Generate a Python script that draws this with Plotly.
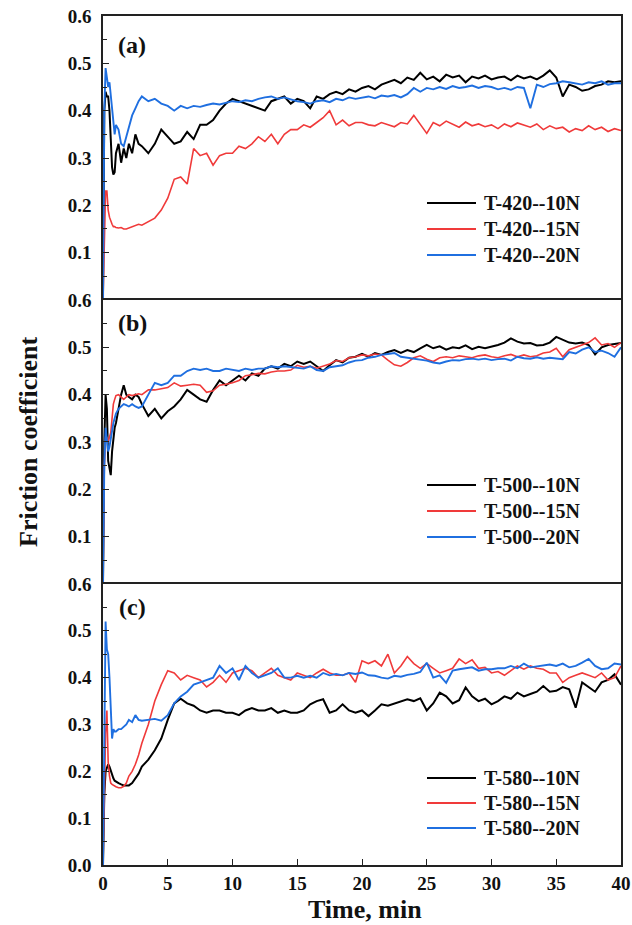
import plotly.graph_objects as go
from plotly.subplots import make_subplots

# ---------------- data ----------------
TIME = [0, 0.1, 0.2, 0.3, 0.4, 0.5, 0.6, 0.7, 0.8, 0.9, 1.0, 1.2, 1.4, 1.6, 1.8, 2.0, 2.25, 2.5, 2.75,
        3.0, 3.5, 4.0, 4.5,
        5.0, 5.5, 6.0, 6.5, 7.0, 7.5, 8.0, 8.5, 9.0, 9.5,
        10.0, 10.5, 11.0, 11.5, 12.0, 12.5, 13.0, 13.5, 14.0, 14.5,
        15.0, 15.5, 16.0, 16.5, 17.0, 17.5, 18.0, 18.5, 19.0, 19.5,
        20.0, 20.5, 21.0, 21.5, 22.0, 22.5, 23.0, 23.5, 24.0, 24.5,
        25.0, 25.5, 26.0, 26.5, 27.0, 27.5, 28.0, 28.5, 29.0, 29.5,
        30.0, 30.5, 31.0, 31.5, 32.0, 32.5, 33.0, 33.5, 34.0, 34.5,
        35.0, 35.5, 36.0, 36.5, 37.0, 37.5, 38.0, 38.5, 39.0, 39.5, 40.0]

# Panel (a): T-420
T420_10N = [0.0, 0.40, 0.44, 0.43, 0.43, 0.40, 0.34, 0.28, 0.265, 0.27, 0.31, 0.33, 0.29, 0.32, 0.30, 0.33, 0.31, 0.35, 0.33,
            0.325, 0.31, 0.33, 0.36,
            0.345, 0.33, 0.335, 0.355, 0.34, 0.37, 0.37, 0.38, 0.40, 0.415,
            0.425, 0.42, 0.415, 0.41, 0.405, 0.40, 0.42, 0.425, 0.43, 0.415,
            0.425, 0.42, 0.405, 0.43, 0.425, 0.435, 0.44, 0.435, 0.445, 0.44,
            0.448, 0.452, 0.445, 0.455, 0.46, 0.465, 0.458, 0.47, 0.465, 0.48,
            0.466, 0.472, 0.462, 0.476, 0.47, 0.474, 0.46, 0.472, 0.468, 0.474,
            0.466, 0.47, 0.472, 0.464, 0.474, 0.468, 0.472, 0.466, 0.474, 0.485,
            0.47, 0.43, 0.455, 0.45, 0.442, 0.445, 0.452, 0.455, 0.462, 0.46, 0.462]
T420_15N = [0.0, 0.15, 0.23, 0.23, 0.19, 0.175, 0.165, 0.16, 0.155, 0.155, 0.153, 0.152, 0.153, 0.15, 0.15, 0.152, 0.155, 0.157, 0.16,
            0.158, 0.165, 0.173, 0.19,
            0.215, 0.255, 0.26, 0.245, 0.32, 0.305, 0.31, 0.285, 0.305, 0.31,
            0.31, 0.325, 0.32, 0.33, 0.345, 0.335, 0.35, 0.33, 0.35, 0.36,
            0.36, 0.37, 0.365, 0.375, 0.385, 0.40, 0.37, 0.38, 0.368, 0.375,
            0.375, 0.37, 0.368, 0.375, 0.37, 0.366, 0.375, 0.372, 0.39, 0.37,
            0.352, 0.375, 0.368, 0.378, 0.372, 0.365, 0.376, 0.368, 0.372, 0.366,
            0.37, 0.362, 0.372, 0.366, 0.374, 0.37, 0.365, 0.372, 0.36, 0.368,
            0.362, 0.365, 0.355, 0.362, 0.358, 0.368, 0.36, 0.365, 0.356, 0.362, 0.358]
T420_20N = [0.0, 0.40, 0.49, 0.47, 0.45, 0.46, 0.43, 0.40, 0.37, 0.35, 0.37, 0.36, 0.33, 0.325, 0.345, 0.365, 0.39, 0.405, 0.42,
            0.43, 0.42, 0.425, 0.415,
            0.41, 0.40, 0.41, 0.405, 0.41, 0.408, 0.412, 0.415, 0.413, 0.417,
            0.42, 0.418, 0.422, 0.42, 0.425, 0.428, 0.43, 0.425, 0.428, 0.424,
            0.42, 0.418, 0.415, 0.42, 0.422, 0.418, 0.425, 0.422, 0.428, 0.425,
            0.428, 0.43, 0.426, 0.432, 0.43, 0.433, 0.428, 0.435, 0.448, 0.44,
            0.448, 0.445, 0.45, 0.446, 0.452, 0.448, 0.45, 0.453, 0.448, 0.452,
            0.45, 0.445, 0.448, 0.444, 0.45, 0.448, 0.405, 0.455, 0.45, 0.456,
            0.458, 0.462, 0.46, 0.458, 0.455, 0.46, 0.458, 0.462, 0.455, 0.458, 0.458]

# Panel (b): T-500
T500_10N = [0.0, 0.30, 0.40, 0.37, 0.26, 0.24, 0.23, 0.28, 0.31, 0.33, 0.34, 0.37, 0.40, 0.42, 0.40, 0.395, 0.39, 0.40, 0.395,
            0.38, 0.355, 0.37, 0.35,
            0.365, 0.375, 0.39, 0.41, 0.40, 0.39, 0.385, 0.41, 0.43, 0.42,
            0.43, 0.44, 0.43, 0.445, 0.44, 0.455, 0.46, 0.455, 0.465, 0.46,
            0.47, 0.465, 0.47, 0.46, 0.45, 0.462, 0.473, 0.468, 0.478, 0.48,
            0.486, 0.48, 0.488, 0.484, 0.49, 0.494, 0.488, 0.494, 0.49, 0.498,
            0.505, 0.498, 0.502, 0.495, 0.50, 0.498, 0.504, 0.496, 0.501, 0.498,
            0.501, 0.505, 0.51, 0.519, 0.512, 0.508, 0.509, 0.504, 0.505, 0.51,
            0.522, 0.516, 0.51, 0.508, 0.51, 0.505, 0.485, 0.50, 0.505, 0.507, 0.509]
T500_15N = [0.0, 0.25, 0.31, 0.31, 0.30, 0.31, 0.32, 0.35, 0.38, 0.39, 0.398, 0.40, 0.395, 0.39, 0.395, 0.40, 0.398, 0.40, 0.402,
            0.40, 0.41, 0.41, 0.412,
            0.415, 0.425, 0.418, 0.42, 0.422, 0.42, 0.405, 0.408, 0.42, 0.422,
            0.425, 0.43, 0.44, 0.442, 0.445, 0.444, 0.448, 0.45, 0.45, 0.452,
            0.462, 0.458, 0.46, 0.456, 0.46, 0.465, 0.472, 0.47, 0.478, 0.48,
            0.484, 0.482, 0.486, 0.484, 0.473, 0.463, 0.46, 0.468, 0.478, 0.482,
            0.475, 0.47, 0.478, 0.48, 0.478, 0.482, 0.48, 0.478, 0.482, 0.484,
            0.48, 0.478, 0.482, 0.485, 0.48, 0.484, 0.48, 0.482, 0.488, 0.49,
            0.498, 0.48, 0.495, 0.50, 0.505, 0.51, 0.52, 0.505, 0.508, 0.50, 0.51]
T500_20N = [0.0, 0.25, 0.33, 0.30, 0.28, 0.29, 0.31, 0.33, 0.34, 0.35, 0.36, 0.37, 0.375, 0.38, 0.378, 0.375, 0.38, 0.375, 0.372,
            0.375, 0.40, 0.425, 0.42,
            0.425, 0.44, 0.44, 0.45, 0.455, 0.452, 0.455, 0.45, 0.45, 0.455,
            0.452, 0.45, 0.455, 0.452, 0.455, 0.455, 0.46, 0.458, 0.46, 0.458,
            0.456, 0.455, 0.46, 0.452, 0.45, 0.458, 0.46, 0.462, 0.468, 0.472,
            0.473, 0.478, 0.48, 0.484, 0.486, 0.488, 0.48, 0.478, 0.477, 0.475,
            0.472, 0.468, 0.466, 0.47, 0.473, 0.472, 0.475, 0.476, 0.474, 0.476,
            0.473, 0.475, 0.476, 0.472, 0.48, 0.477, 0.476, 0.479, 0.476, 0.478,
            0.476, 0.475, 0.49, 0.487, 0.495, 0.50, 0.49, 0.493, 0.488, 0.48, 0.50]

# Panel (c): T-580
T580_10N = [0.0, 0.15, 0.20, 0.21, 0.215, 0.21, 0.20, 0.19, 0.185, 0.18, 0.178, 0.175, 0.172, 0.17, 0.17, 0.17, 0.175, 0.185, 0.195,
            0.21, 0.225, 0.245, 0.27,
            0.31, 0.345, 0.355, 0.345, 0.34, 0.33, 0.325, 0.33, 0.33, 0.325,
            0.325, 0.32, 0.33, 0.335, 0.33, 0.33, 0.335, 0.325, 0.33, 0.325,
            0.325, 0.33, 0.343, 0.35, 0.354, 0.325, 0.33, 0.343, 0.33, 0.325,
            0.33, 0.318, 0.33, 0.343, 0.34, 0.345, 0.35, 0.354, 0.35, 0.356,
            0.33, 0.345, 0.368, 0.36, 0.345, 0.352, 0.379, 0.36, 0.35, 0.355,
            0.343, 0.35, 0.36, 0.355, 0.368, 0.36, 0.365, 0.37, 0.382, 0.37,
            0.372, 0.38, 0.375, 0.336, 0.39, 0.38, 0.37, 0.39, 0.395, 0.407, 0.385]
T580_15N = [0.0, 0.15, 0.28, 0.33, 0.22, 0.19, 0.175, 0.172, 0.17, 0.168, 0.167, 0.165, 0.165, 0.168, 0.175, 0.19, 0.20, 0.215, 0.235,
            0.26, 0.30, 0.35, 0.385,
            0.415, 0.41, 0.395, 0.405, 0.40, 0.395, 0.38, 0.39, 0.405, 0.39,
            0.41, 0.415, 0.42, 0.415, 0.40, 0.41, 0.42, 0.405, 0.40, 0.395,
            0.41, 0.405, 0.40, 0.41, 0.418, 0.41, 0.405, 0.405, 0.41, 0.39,
            0.436, 0.43, 0.436, 0.425, 0.45, 0.41, 0.425, 0.445, 0.43, 0.42,
            0.43, 0.42, 0.41, 0.415, 0.42, 0.44, 0.43, 0.438, 0.42, 0.422,
            0.41, 0.413, 0.405, 0.415, 0.425, 0.418, 0.425, 0.42, 0.418, 0.41,
            0.41, 0.39, 0.40, 0.405, 0.41, 0.405, 0.40, 0.41, 0.395, 0.40, 0.425]
T580_20N = [0.0, 0.30, 0.52, 0.46, 0.45, 0.40, 0.33, 0.27, 0.29, 0.285, 0.285, 0.29, 0.29, 0.295, 0.30, 0.31, 0.305, 0.32, 0.31,
            0.308, 0.31, 0.312, 0.308,
            0.32, 0.345, 0.36, 0.37, 0.385, 0.39, 0.395, 0.40, 0.425, 0.41,
            0.42, 0.395, 0.425, 0.41, 0.40, 0.405, 0.41, 0.42, 0.40, 0.40,
            0.404, 0.40, 0.404, 0.40, 0.41, 0.405, 0.408, 0.405, 0.41, 0.408,
            0.411, 0.405, 0.404, 0.40, 0.398, 0.404, 0.402, 0.406, 0.408, 0.412,
            0.432, 0.40, 0.405, 0.389, 0.415, 0.418, 0.42, 0.422, 0.415, 0.418,
            0.418, 0.42, 0.42, 0.425, 0.42, 0.43, 0.422, 0.424, 0.425, 0.428,
            0.425, 0.43, 0.422, 0.425, 0.432, 0.44, 0.425, 0.418, 0.42, 0.43, 0.428]

PANEL_LABELS = ["(a)", "(b)", "(c)"]
SERIES_NAMES = [["T-420--10N", "T-420--15N", "T-420--20N"],
                ["T-500--10N", "T-500--15N", "T-500--20N"],
                ["T-580--10N", "T-580--15N", "T-580--20N"]]
SERIES_VALUES = [[T420_10N, T420_15N, T420_20N],
                 [T500_10N, T500_15N, T500_20N],
                 [T580_10N, T580_15N, T580_20N]]
X_TICKS = [0, 5, 10, 15, 20, 25, 30, 35, 40]
Y_TICKS_UPPER = [0.1, 0.2, 0.3, 0.4, 0.5, 0.6]
Y_TICKS_LOWER = [0.0, 0.1, 0.2, 0.3, 0.4, 0.5, 0.6]

# ---------------- styling ----------------
COLORS = ["#000000", "#f03a3a", "#1f6fe0"]
WIDTHS = [2.0, 1.6, 1.9]
FONT = "Liberation Serif"
AX = "#222222"

# plot-area geometry in pixels (for placing decorations)
PL, PR, PT, PB = 103, 621, 16, 865
def px_x(p):
    return (p - PL) / (PR - PL)
def px_y(p):
    return (PB - p) / (PB - PT)

fig = make_subplots(rows=3, cols=1, shared_xaxes=True, vertical_spacing=0)

for r in range(3):
    for k in range(3):
        fig.add_trace(go.Scatter(
            x=TIME, y=SERIES_VALUES[r][k], mode="lines", name=SERIES_NAMES[r][k],
            line=dict(color=COLORS[k], width=WIDTHS[k]), showlegend=False),
            row=r + 1, col=1)

domains = [[0.6655, 1.0], [0.331, 0.6655], [0.0, 0.331]]
tick_font = dict(family=FONT, size=19, color="#111", weight="bold")

for r in range(1, 4):
    fig.update_yaxes(
        row=r, col=1, range=[0, 0.6], domain=domains[r - 1],
        tickmode="array",
        tickvals=Y_TICKS_LOWER if r == 3 else Y_TICKS_UPPER,
        tickformat=".1f", ticks="inside", ticklen=6, tickwidth=1.3, tickcolor=AX,
        minor=dict(tickmode="linear", tick0=0, dtick=0.05, ticks="inside", ticklen=4, tickwidth=1.2, tickcolor=AX),
        showline=True, linecolor=AX, linewidth=1.5, mirror=True, automargin=False,
        showgrid=False, zeroline=False, tickfont=tick_font, ticklabelstandoff=6)
    # upper panels: draw only their top edge (each boundary drawn once); bottom panel: both edges
    fig.update_xaxes(
        row=r, col=1, range=[0, 40],
        side="bottom" if r == 3 else "top",
        showline=True, linecolor=AX, linewidth=1.5, mirror=(r == 3), automargin=False,
        showgrid=False, zeroline=False,
        tickmode="array", tickvals=X_TICKS,
        ticks="inside" if r == 3 else "", ticklen=6, tickwidth=1.3, tickcolor=AX,
        showticklabels=(r == 3), tickfont=tick_font, ticklabeloverflow="allow")

annotations = []
shapes = []

# panel labels
label_py = [45, 323, 607]
for i, lab in enumerate(PANEL_LABELS):
    annotations.append(dict(text=lab, xref="paper", yref="paper", x=px_x(132), y=px_y(label_py[i]),
                            xanchor="center", yanchor="middle", showarrow=False,
                            font=dict(family=FONT, size=24, color="#111", weight="bold")))

# legends (key line + bold label), one per panel
legend_rows_py = [[203, 229, 255], [485, 511, 537], [778, 803, 828]]
for r in range(3):
    for k in range(3):
        yy = px_y(legend_rows_py[r][k])
        shapes.append(dict(type="line", xref="paper", yref="paper",
                           x0=px_x(427), x1=px_x(476), y0=yy, y1=yy,
                           line=dict(color=COLORS[k], width=2.2)))
        annotations.append(dict(text=SERIES_NAMES[r][k], xref="paper", yref="paper",
                                x=px_x(482), y=yy, xanchor="left", yanchor="middle",
                                showarrow=False,
                                font=dict(family=FONT, size=20, color="#111", weight="bold")))

# axis titles
annotations.append(dict(text="Friction coefficient", xref="paper", yref="paper",
                        x=px_x(28), y=px_y(442), textangle=-90,
                        xanchor="center", yanchor="middle", showarrow=False,
                        font=dict(family=FONT, size=26, color="#111", weight="bold")))
annotations.append(dict(text="Time, min", xref="paper", yref="paper",
                        x=px_x(365), y=px_y(910),
                        xanchor="center", yanchor="middle", showarrow=False,
                        font=dict(family=FONT, size=26, color="#111", weight="bold")))

fig.update_layout(
    width=632, height=925,
    margin=dict(l=PL, r=632 - PR, t=PT, b=925 - PB, autoexpand=False),
    paper_bgcolor="white", plot_bgcolor="white",
    annotations=annotations, shapes=shapes, showlegend=False,
)

fig.write_html("out.html")
